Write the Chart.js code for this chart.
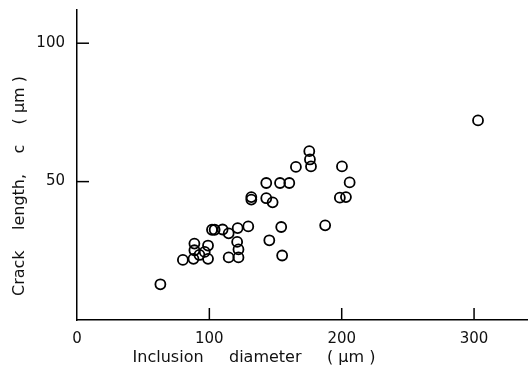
<!DOCTYPE html>
<html>
<head>
<meta charset="utf-8">
<script src="https://cdn.jsdelivr.net/npm/chart.js@4/dist/chart.umd.min.js"></script>
<style>
  html, body { margin: 0; padding: 0; background: #fff; }
  #wrap { width: 528px; height: 377px; }
</style>
</head>
<body>
<div id="wrap"><canvas id="crackChart" width="528" height="377"></canvas></div>
<script>
    // inclusion diameter (um) and crack length c (um)
    const diameter = [63, 80, 88.7, 88.7, 88, 92.5, 96.5, 99, 99, 102, 104, 110, 114.6, 114.6,
        121.4, 121, 122, 122, 129.4, 131.7, 131.7, 143, 143, 145.3, 147.8, 154.3, 155,
        153.4, 160.4, 165.4, 175.5, 176, 176.8, 187.5, 200.2, 198.6, 203.2, 206, 303];
    const crackLength = [12.9, 21.7, 27.6, 25.2, 22.1, 23.5, 24.6, 26.9, 22.1, 32.6, 32.6, 32.7, 31.3, 22.6,
        33.2, 28.2, 25.5, 22.6, 33.8, 44.4, 43.5, 49.5, 44, 28.8, 42.5, 33.6, 23.3,
        49.5, 49.5, 55.3, 61, 58, 55.5, 34.2, 55.5, 44.2, 44.4, 49.7, 72.1];

    const xTicks = [0, 100, 200, 300];
    const yTicks = [50, 100];

    const xTitle = 'Inclusion     diameter     ( μm )';
    const yTitle = 'Crack    length,    c    ( μm )';

    const points = diameter.map((d, i) => ({ x: d, y: crackLength[i] }));

    const FONT = '"DejaVu Sans", sans-serif';

    // small ticks pointing into the plot + axis titles
    const extrasPlugin = {
        id: 'extras',
        afterDraw(chart) {
            const ctx = chart.ctx;
            const xs = chart.scales.x, ys = chart.scales.y;
            const area = chart.chartArea;
            ctx.save();
            ctx.strokeStyle = '#000';
            ctx.lineWidth = 1.5;
            xTicks.forEach(v => {
                if (v === 0) return;
                const px = xs.getPixelForValue(v);
                ctx.beginPath();
                ctx.moveTo(px, area.bottom);
                ctx.lineTo(px, area.bottom - 12);
                ctx.stroke();
            });
            yTicks.forEach(v => {
                const py = ys.getPixelForValue(v);
                ctx.beginPath();
                ctx.moveTo(area.left, py);
                ctx.lineTo(area.left + 12, py);
                ctx.stroke();
            });

            ctx.fillStyle = '#111';
            ctx.font = '16px ' + FONT;
            ctx.textAlign = 'center';
            ctx.textBaseline = 'middle';
            ctx.fillText(xTitle, 254, 358);

            ctx.translate(20, 186);
            ctx.rotate(-Math.PI / 2);
            ctx.fillText(yTitle, 0, 0);
            ctx.restore();
        }
    };

    const ctx = document.getElementById('crackChart').getContext('2d');
    const crackChart = new Chart(ctx, {
        type: 'scatter',
        data: {
            datasets: [{
                data: points,
                pointStyle: 'circle',
                pointRadius: 5,
                pointBorderWidth: 1.8,
                pointBorderColor: '#000',
                pointBackgroundColor: 'rgba(255,255,255,0)'
            }]
        },
        options: {
            responsive: false,
            animation: false,
            layout: { autoPadding: false, padding: { top: 10, right: 1, left: 0, bottom: 0 } },
            plugins: {
                legend: { display: false },
                tooltip: { enabled: false }
            },
            scales: {
                x: {
                    type: 'linear',
                    min: 0,
                    max: 340,
                    afterBuildTicks: (scale) => { scale.ticks = xTicks.map(v => ({ value: v })); },
                    afterFit: (scale) => {
                        scale.height = 57;
                        scale.paddingLeft = 0;
                        scale.paddingRight = 0;
                    },
                    grid: { display: false, drawTicks: false },
                    border: { display: true, color: '#000', width: 1.5 },
                    ticks: {
                        color: '#111',
                        padding: 10,
                        font: { family: FONT, size: 15 }
                    }
                },
                y: {
                    type: 'linear',
                    min: 0,
                    max: 112,
                    afterBuildTicks: (scale) => { scale.ticks = yTicks.map(v => ({ value: v })); },
                    afterFit: (scale) => {
                        scale.width = 77;
                        scale.paddingTop = 0;
                        scale.paddingBottom = 0;
                    },
                    grid: { display: false, drawTicks: false },
                    border: { display: true, color: '#000', width: 1.5 },
                    ticks: {
                        color: '#111',
                        padding: 12,
                        font: { family: FONT, size: 15 }
                    }
                }
            }
        },
        plugins: [extrasPlugin]
    });
</script>
</body>
</html>
